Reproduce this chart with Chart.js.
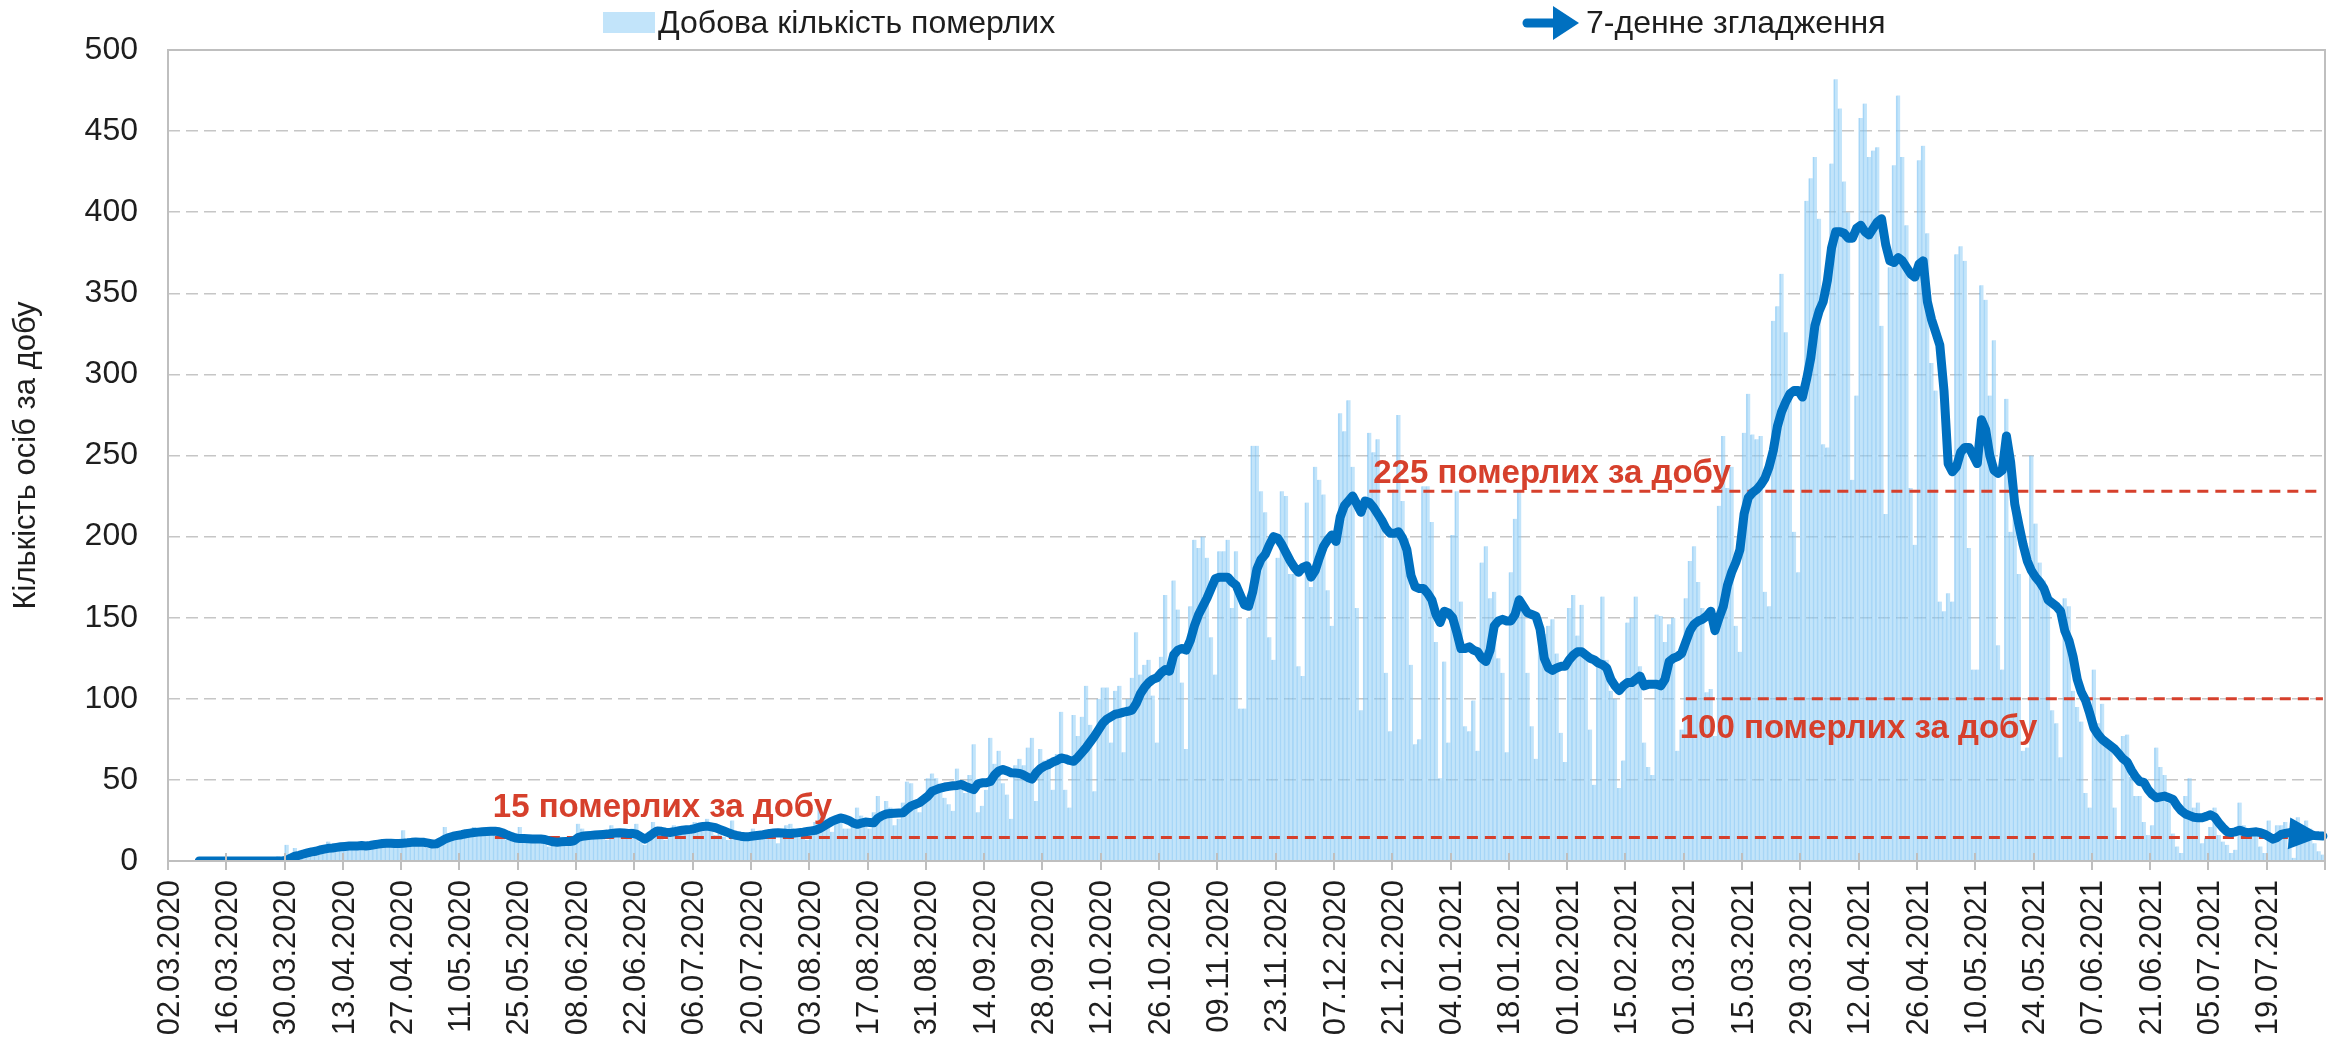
<!DOCTYPE html>
<html>
<head>
<meta charset="utf-8">
<script src="https://cdn.jsdelivr.net/npm/chart.js@4.4.1/dist/chart.umd.min.js"></script>
<style>
  html, body { margin: 0; padding: 0; background: #fff; }
  #wrap { width: 2333px; height: 1043px; }
</style>
</head>
<body>
<div id="wrap"><canvas id="deaths" width="2333" height="1043"></canvas></div>
<script>
// first day of the series: 02.03.2020
var startDay = Date.UTC(2020, 2, 2);
var tickEvery = 14;

// daily deaths, 02.03.2020 - 31.12.2020
var deaths2020 = [
  0,0,0,0,0,0,0,0,0,0,0,1,0,0,
  0,0,1,0,1,0,1,0,1,0,2,1,3,2,
  10,3,8,5,5,6,7,8,9,10,12,8,7,9,
  11,9,8,10,11,9,7,11,12,10,13,12,9,10,
  19,10,12,11,13,10,8,11,10,13,21,16,14,17,
  18,19,16,21,17,20,19,18,21,19,14,13,17,13,
  21,15,16,12,14,16,13,9,11,12,15,13,11,15,
  23,20,16,15,17,18,14,13,22,18,19,16,15,20,
  23,12,10,18,24,20,18,13,17,22,19,20,18,21,
  24,23,19,26,20,16,18,15,13,25,14,17,16,13,
  20,14,15,17,16,20,11,16,22,23,17,15,18,13,
  18,24,33,30,23,18,24,28,20,20,22,33,28,26,
  20,30,40,30,37,33,22,26,36,49,48,36,30,39,
  51,54,51,44,39,35,31,57,49,42,53,72,30,34,
  44,76,60,68,48,41,26,59,63,59,70,76,37,69,
  62,63,44,66,92,44,33,90,77,89,108,84,43,100,
  107,107,73,105,108,67,100,113,141,115,121,124,102,73,
  126,164,120,173,155,110,69,157,198,193,200,187,138,115,
  191,191,198,156,191,94,94,150,256,256,228,215,138,124,
  187,228,225,177,177,120,114,221,169,243,235,226,167,145,
  203,276,265,284,243,156,93,216,264,252,260,212,116,80,
  229,275,222,199,121,72,75,231,231,209,135
];

// daily deaths, 01.01.2021 - 01.08.2021
var deaths2021 = [
  51,123,73,
  201,228,160,83,80,99,68,184,194,162,166,125,116,67,
  178,211,228,160,116,83,63,150,140,145,149,128,79,61,
  156,164,139,158,126,81,47,124,163,124,105,100,45,62,
  147,150,163,120,73,58,53,152,151,135,146,150,68,81,
  162,185,194,172,156,104,106,77,219,262,230,243,145,129,
  264,288,263,260,262,166,157,333,342,362,326,290,203,178,
  290,407,421,434,396,257,255,430,482,464,419,400,235,287,
  458,467,434,438,440,330,214,366,429,472,434,392,230,195,
  432,441,387,307,290,160,154,165,160,374,379,370,193,118,
  118,355,346,287,321,133,118,285,203,221,177,68,70,250,
  208,184,173,160,93,85,64,162,157,105,95,86,42,33,
  118,85,97,71,71,33,13,77,78,52,40,40,24,16,
  22,70,58,53,36,17,9,5,40,51,33,36,11,14,
  21,33,16,12,10,5,7,36,22,20,20,18,9,5,
  25,13,22,22,24,8,2,27,13,25,20,11,6,4
];

// 7-day smoothing as drawn, 2020
var smooth2020 = [
  null,null,null,null,null,null,null,0,0,0,0,0,0,0,
  0,0,0,0,0,0,0,0,0,0,0,0,0,0,
  0.5,1.8,3,3.5,4.3,5,5.6,6,6.8,7.3,7.8,8,8.4,8.8,
  9,9.2,9.3,9.3,9.5,9.3,9.6,10,10.4,10.8,11,11,10.8,10.8,
  11,11.2,11.5,11.7,11.6,11.5,11,10.5,10.6,12,13.5,14.5,15.3,15.8,
  16.2,16.8,17.2,17.6,17.8,18,18.2,18.4,18.4,18,17.2,16,15,14.2,
  13.8,13.8,13.7,13.5,13.5,13.6,13.3,12.5,11.8,11.6,11.8,12,12,12.5,
  14.5,15.3,15.6,15.8,16,16.2,16.4,16.6,17,17.2,17.4,17.3,17,17,
  16.5,15,13.5,15,17,18.5,18.3,17.8,17.6,18,18.5,19,19.3,19.5,
  20,20.8,21.3,21.5,21,20.5,19.5,18.5,17.5,16.5,15.8,15.3,15,15,
  15.4,15.7,16,16.5,17,17.2,17.4,17.3,17.1,17,17.2,17.5,17.8,18.2,
  18.6,19,20,21.5,23,24.6,25.6,26.5,26,25,23.5,22.6,23.3,24,
  23.8,23.6,26.5,28,29,29.3,29.5,29.6,29.7,32,34,35,36,38,
  40,43,44,45,45.6,46,46.4,46.6,47.2,46,45,44,47.5,48.2,
  48.2,49,53,55.5,56.4,55.5,54.4,54.2,54,53,51.5,50.5,54.4,57,
  58.5,59.5,61,62,63.5,63,62,61.5,64,67,70,73.5,77,81,
  85,87.5,89,90.5,91,91.8,92.3,93,97,103,107,110,112,113,
  116,118,117,127,130,131,130,136,145,152,157,162,168,174,
  175,175,175,172,170,164,158,157,166,180,186,189,195,200,
  199,195,190,185,181,178,181,182,175,179,187,194,198,201,
  197,212,219,222,225,220,215,222,221,218,214,210,205,202,
  202,203,199,192,176,169,168,168,165,161,152
];

// 7-day smoothing as drawn, 2021
var smooth2021 = [
  147,154,153,
  150,141,131,131,132,130,129,125,123,130,145,148,149,148,
  148,152,161,157,153,152,151,143,125,119,117.5,119,120,120,
  124,127,129,129,127,125,124,122,121,119,112,108,105,108,
  110,110,112,114,108,109,109,109,108,112,123,125,126,128,
  135,142,146,148,149,151,154,142,150,157,170,178,184,192,
  214,224,227,229,232,236,243,253,268,277,283,288,290,290,
  286,297,310,330,339,345,358,378,388,388,387,384,384,390,
  392,388,386,390,394,396,380,370,369,372,370,366,362,360,
  368,370,345,334,326,318,290,245,240,243,252,255,255,250,
  245,272,266,250,241,239,241,262,246,220,207,195,185,179,
  175,172,168,161,159,157,154,142,136,126,112,104,99,91,
  82,78,75,73,71,69,66,63,61,56,52,49,48.5,44,
  41,39,39.5,40,39,38,34,31,29,28,27,26.7,26.7,27.5,
  28.5,27,23.5,20.5,18,17.5,18,19,18,17.5,17.8,18,17.5,16.5,
  15,13.5,14.5,16.4,17,17.5,17.5,17.5,17,16.5,16,15.7,15.5,15.4
];

// red reference levels: value, first day index, caption
var refLevels = [228, 100, 14.5];
var refFrom = [288, 364, 78];
var refText = ['225 померлих за добу', '100 померлих за добу', '15 померлих за добу'];

var BLUE = '#0070C0';
var RED = '#D6402C';
var BAR = 'rgba(144, 206, 246, 0.55)';
var BAR_EDGE = 'rgba(110, 185, 240, 0.55)';
var FRAME = '#BFBFBF';
var TXT = '#1E1E1E';
var FONT = "'Liberation Sans', Arial, sans-serif";

var daily = deaths2020.concat(deaths2021);
var smooth = smooth2020.concat(smooth2021);

function pad(n) { return (n < 10 ? '0' : '') + n; }
var labels = daily.map(function (v, i) {
  var d = new Date(startDay + i * 86400000);
  return pad(d.getUTCDate()) + '.' + pad(d.getUTCMonth() + 1) + '.' + d.getUTCFullYear();
});

var refSets = refLevels.map(function (lv, k) {
  return {
    type: 'line',
    label: refText[k],
    data: labels.map(function (l, i) { return i >= refFrom[k] ? lv : null; }),
    borderColor: RED,
    borderWidth: 3,
    borderDash: [11, 7],
    pointRadius: 0,
    order: 1
  };
});

function arrowHead(ctx, x, y, ang, len, half) {
  ctx.save();
  ctx.translate(x, y);
  ctx.rotate(ang);
  ctx.beginPath();
  ctx.moveTo(0, 0);
  ctx.lineTo(-len, -half);
  ctx.lineTo(-len, half);
  ctx.closePath();
  ctx.fill();
  ctx.restore();
}

var decor = {
  id: 'decor',
  afterDatasetsDraw: function (chart) {
    var ctx = chart.ctx, a = chart.chartArea;
    var xs = chart.scales.x, ys = chart.scales.y;
    var half = (xs.getPixelForValue(1) - xs.getPixelForValue(0)) / 2;
    ctx.save();

    // plot frame
    ctx.strokeStyle = FRAME;
    ctx.lineWidth = 2;
    ctx.strokeRect(a.left, a.top, a.right - a.left, a.bottom - a.top);

    // crossing tick marks every two weeks
    ctx.beginPath();
    for (var i = 0; i <= labels.length; i += tickEvery) {
      var tx = Math.round(xs.getPixelForValue(i) - half);
      ctx.moveTo(tx, a.bottom - 8);
      ctx.lineTo(tx, a.bottom + 9);
    }
    ctx.stroke();

    // arrow at the end of the smoothed line
    var pts = chart.getDatasetMeta(0).data;
    var p1 = pts[pts.length - 1], p0 = pts[pts.length - 4];
    ctx.fillStyle = BLUE;
    arrowHead(ctx, p1.x, p1.y, Math.atan2(p1.y - p0.y, p1.x - p0.x), 34, 16);

    // captions of the reference lines
    ctx.fillStyle = RED;
    ctx.font = 'bold 33px ' + FONT;
    ctx.textAlign = 'left';
    ctx.textBaseline = 'alphabetic';
    var x0 = xs.getPixelForValue(refFrom[0]) - half;
    ctx.fillText(refText[0], x0 + 6, ys.getPixelForValue(refLevels[0]) - 8);
    var x1 = xs.getPixelForValue(refFrom[1]) - half;
    ctx.textBaseline = 'top';
    ctx.fillText(refText[1], x1 - 4, ys.getPixelForValue(refLevels[1]) + 14);
    var x2 = xs.getPixelForValue(refFrom[2]) - half;
    ctx.textBaseline = 'alphabetic';
    ctx.fillText(refText[2], x2, ys.getPixelForValue(refLevels[2]) - 20);
    ctx.restore();
  },
  afterDraw: function (chart) {
    var ctx = chart.ctx;
    ctx.save();
    ctx.font = '32px ' + FONT;
    ctx.textBaseline = 'middle';
    // bars entry
    ctx.fillStyle = '#C2E4FA';
    ctx.fillRect(603, 12, 52, 21);
    ctx.fillStyle = TXT;
    ctx.fillText(chart.data.datasets[4].label, 658, 24);
    // line entry
    ctx.strokeStyle = BLUE;
    ctx.fillStyle = BLUE;
    ctx.lineWidth = 9;
    ctx.lineCap = 'round';
    ctx.beginPath();
    ctx.moveTo(1527, 23);
    ctx.lineTo(1556, 23);
    ctx.stroke();
    arrowHead(ctx, 1579, 23, 0, 26, 17);
    ctx.fillStyle = TXT;
    ctx.fillText(chart.data.datasets[0].label, 1586, 24);
    ctx.restore();
  }
};

new Chart(document.getElementById('deaths'), {
  type: 'bar',
  data: {
    labels: labels,
    datasets: [{
      type: 'line',
      label: '7-денне згладження',
      data: smooth,
      borderColor: BLUE,
      borderWidth: 9,
      borderJoinStyle: 'round',
      borderCapStyle: 'round',
      pointRadius: 0,
      tension: 0,
      order: 0
    }].concat(refSets).concat([{
      type: 'bar',
      label: 'Добова кількість померлих',
      data: daily,
      backgroundColor: BAR,
      borderColor: BAR_EDGE,
      borderWidth: { left: 1, right: 0, top: 0, bottom: 0 },
      borderSkipped: false,
      barPercentage: 1,
      categoryPercentage: 1,
      order: 2
    }])
  },
  options: {
    responsive: false,
    animation: false,
    devicePixelRatio: 1,
    layout: { padding: { top: 50, right: 8, left: 0, bottom: 0 } },
    plugins: {
      legend: { display: false },
      tooltip: { enabled: false }
    },
    scales: {
      x: {
        offset: true,
        grid: { display: false },
        border: { display: false },
        ticks: {
          autoSkip: false,
          minRotation: 90,
          maxRotation: 90,
          padding: 11,
          color: TXT,
          font: { family: FONT, size: 31 },
          callback: function (v, i) { return i % tickEvery === 0 ? labels[i] : ''; }
        },
        afterFit: function (s) {
          s.height = 182;
          s.paddingLeft = 0;
          s.paddingRight = 0;
        }
      },
      y: {
        min: 0,
        max: 500,
        ticks: { stepSize: 50, padding: 30, color: TXT, font: { family: FONT, size: 32 } },
        grid: { color: '#C6C6C6', lineWidth: 1.5, drawTicks: false },
        border: { display: false, dash: [12, 6] },
        title: {
          display: true,
          text: 'Кількість осіб за добу',
          color: TXT,
          font: { family: FONT, size: 31 },
          padding: { top: 8, bottom: 0 }
        },
        afterFit: function (s) {
          s.width = 168;
          s.paddingTop = 0;
          s.paddingBottom = 0;
        }
      }
    }
  },
  plugins: [decor]
});
</script>
</body>
</html>
